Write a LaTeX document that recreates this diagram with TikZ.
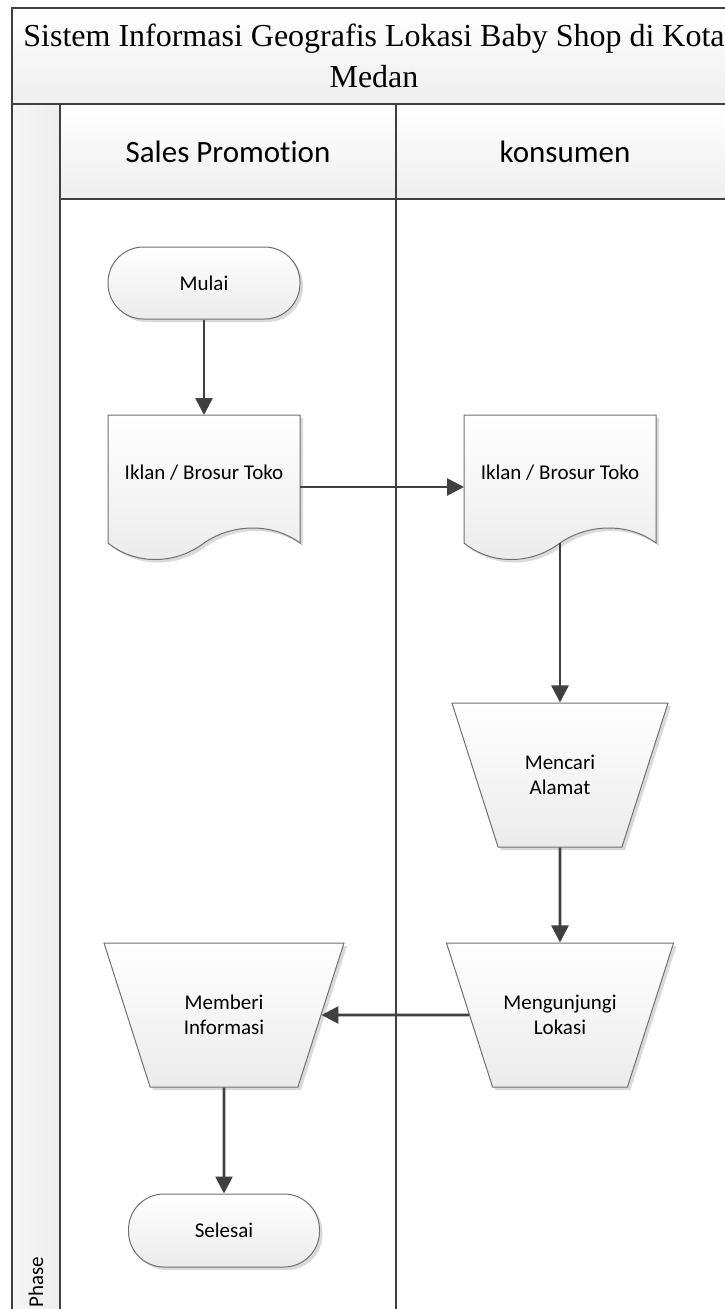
\documentclass[tikz,border=0pt]{standalone}
\usepackage{fontspec}
\setmainfont{Liberation Serif}
\newfontfamily\calibri[Ligatures=CommonOff]{Carlito}
\usetikzlibrary{arrows.meta,shapes.geometric,shadows}

\definecolor{frameline}{HTML}{3F3F3F}
\definecolor{outline}{HTML}{707070}
\definecolor{fillbottom}{HTML}{EBEBEB}
\definecolor{bandbottom}{HTML}{EEEEEE}
\definecolor{connector}{HTML}{404040}
\definecolor{shadowtone}{HTML}{DADADA}

\tikzset{
  frame/.style={draw=frameline, line width=2pt},
  flowfill/.style={top color=white, bottom color=fillbottom, draw=outline, line width=1pt},
  softshadow/.style={drop shadow={shadow xshift=3pt, shadow yshift=-3pt, fill=shadowtone, opacity=1}},
  labelfont/.style={font=\calibri\fontsize{21}{25.5}\selectfont},
  titlefont/.style={font=\fontsize{32}{37}\selectfont},
  headfont/.style={font=\calibri\fontsize{31}{37}\selectfont},
  termbox/.style={flowfill, softshadow, labelfont, rounded corners=35.5pt,
    minimum width=192pt, minimum height=72pt, inner sep=0pt},
  manualop/.style={flowfill, softshadow, labelfont, trapezium, shape border rotate=180,
    trapezium angle=71.8, trapezium stretches body, minimum height=144pt,
    inner xsep=2pt, inner ysep=50pt, align=center},
  docarea/.style={minimum width=192pt, minimum height=144pt, inner sep=0pt, outer sep=0pt},
  flow/.style={draw=connector, line width=2.6pt, -{Triangle[length=17pt,width=17pt]}},
  docshape/.pic={
    \fill[shadowtone] (3,3) -- (195,3) -- (195,131)
      .. controls (168,111) and (128,111) .. (99,131)
      .. controls (70,153) and (30,153) .. (3,131) -- cycle;
    \path[flowfill] (0,0) -- (192,0) -- (192,128)
      .. controls (165,108) and (125,108) .. (96,128)
      .. controls (67,150) and (27,150) .. (0,128) -- cycle;
  }
}

\begin{document}
\begin{tikzpicture}[x=1pt, y=-1pt]
  \useasboundingbox (0,0) rectangle (724,1309);
  \fill[white] (0,0) rectangle (724,1309);

  % pool: title band, lane headers and phase column
  \shade[top color=white, bottom color=bandbottom] (12,8) rectangle (745,104);
  \shade[top color=white, bottom color=bandbottom] (60,104) rectangle (745,199);
  \shade[left color=white!96!black, right color=bandbottom] (12,104) rectangle (60,1320);

  \draw[frame] (745,8) -- (12,8) -- (12,1320);
  \draw[frame] (12,104) -- (745,104);
  \draw[frame] (60,104) -- (60,1320);
  \draw[frame] (60,199) -- (745,199);
  \draw[frame] (396,104) -- (396,1320);

  \node[titlefont, anchor=base] (title1) at (374,46) {Sistem Informasi Geografis Lokasi Baby Shop di Kota};
  \node[titlefont, anchor=base] (title2) at (374,87) {Medan};

  \node[headfont, anchor=base] (lanesales) at (228,162) {Sales Promotion};
  \node[headfont, anchor=base] (lanekonsumen) at (565,162) {konsumen};

  \node[labelfont, rotate=90, anchor=base west, inner sep=0pt] (phase) at (43,1308) {Phase};

  % flow shapes
  \node[termbox] (mulai) at (204,283) {Mulai};

  \pic at (108,415) {docshape};
  \node[docarea] (doc1) at (204,487) {};
  \node[labelfont, anchor=base] (doc1text) at (204,479) {Iklan / Brosur Toko};

  \pic at (464,415) {docshape};
  \node[docarea] (doc2) at (560,487) {};
  \node[labelfont, anchor=base] (doc2text) at (560,479) {Iklan / Brosur Toko};
  \coordinate (doc2wave) at (560,543);

  \node[manualop, minimum width=216pt] (cari) at (560,775) {Mencari\\Alamat};
  \node[manualop, minimum width=227pt] (kunjung) at (560,1015) {Mengunjungi\\Lokasi};
  \node[manualop, minimum width=240pt] (info) at (224,1015) {Memberi\\Informasi};

  \node[termbox, minimum width=191pt, minimum height=73pt] (selesai) at (224,1230.5) {Selesai};

  % connectors
  \draw[flow] (mulai) -- (doc1);
  \draw[flow] (doc1) -- (doc2);
  \draw[flow] (doc2wave) -- (cari);
  \draw[flow] (cari) -- (kunjung);
  \draw[flow] (kunjung) -- (info);
  \draw[flow] (info) -- (selesai);
\end{tikzpicture}
\end{document}
